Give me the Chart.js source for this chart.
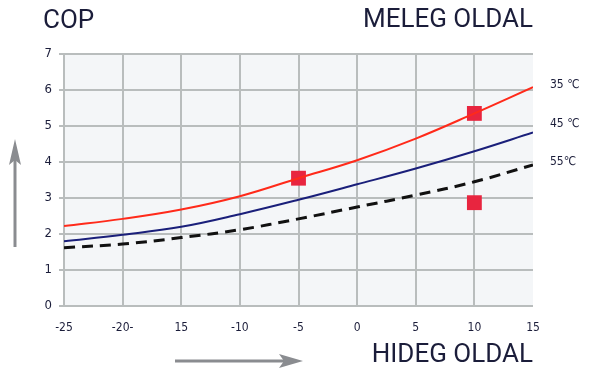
<!DOCTYPE html>
<html><head><meta charset="utf-8">
<script src="https://cdn.jsdelivr.net/npm/chart.js@4"></script>
<style>html,body{margin:0;padding:0;background:#fff}#wrap{width:600px;height:383px;position:relative}</style>
</head><body><div id="wrap"><canvas id="c" width="600" height="383"></canvas></div>
<script>
const xValues = [-25, -20, -15, -10, -5, 0, 5, 10, 15];
const xTickLabels = ["-25", "-20-", "15", "-10", "-5", "0", "5", "10", "15"];
const yTicks = [0, 1, 2, 3, 4, 5, 6, 7];
const cop35 = [2.22, 2.42, 2.68, 3.05, 3.55, 4.05, 4.65, 5.35, 6.08];
const cop45 = [1.80, 1.98, 2.20, 2.55, 2.95, 3.38, 3.82, 4.30, 4.82];
const cop55 = [1.62, 1.72, 1.90, 2.12, 2.42, 2.75, 3.08, 3.45, 3.92];
const markerX = [-5, 10, 10];
const markerY = [3.55, 5.35, 2.87];
const seriesLabels = ["35 ℃", "45 ℃", "55℃"];
const titleY = "COP", titleTop = "MELEG OLDAL", titleBottom = "HIDEG OLDAL";

const pts = a => a.map((v, i) => ({x: xValues[i], y: v}));
const textColor = '#1b1d3a';
const narrow = '"Liberation Sans Narrow", "Arial Narrow", "DejaVu Sans Condensed", sans-serif';

const deco = {
  id: 'deco',
  beforeDraw(chart) {
    const {ctx, chartArea: a} = chart;
    ctx.save();
    ctx.fillStyle = '#f4f6f8';
    ctx.fillRect(a.left, a.top, a.right - a.left, a.bottom - a.top);
    ctx.restore();
  },
  afterDraw(chart) {
    const {ctx, chartArea: a, scales} = chart;
    ctx.save();
    ctx.fillStyle = textColor;
    ctx.textBaseline = 'alphabetic';
    ctx.font = '26px Roboto, "Liberation Sans", sans-serif';
    ctx.textAlign = 'left';
    ctx.fillText(titleY, 43, 28);
    ctx.textAlign = 'right';
    ctx.fillText(titleTop, a.right, 27);
    ctx.fillText(titleBottom, a.right, 362);
    // series labels
    ctx.font = '12px ' + narrow;
    ctx.textAlign = 'left';
    ctx.textBaseline = 'middle';
    const ly = [cop35, cop45, cop55].map(s => scales.y.getPixelForValue(s[s.length - 1]));
    ctx.fillText(seriesLabels[0], a.right + 17, ly[0] - 2);
    ctx.fillText(seriesLabels[1], a.right + 17, ly[1] - 9);
    ctx.fillText(seriesLabels[2], a.right + 17, ly[2] - 3);
    // arrows
    ctx.strokeStyle = '#8a8c90';
    ctx.fillStyle = '#8a8c90';
    ctx.lineWidth = 3;
    ctx.beginPath(); ctx.moveTo(15, 247); ctx.lineTo(15, 155); ctx.stroke();
    ctx.beginPath(); ctx.moveTo(15, 139); ctx.lineTo(9, 165); ctx.lineTo(15, 160); ctx.lineTo(21, 165); ctx.closePath(); ctx.fill();
    ctx.beginPath(); ctx.moveTo(175, 361); ctx.lineTo(288, 361); ctx.stroke();
    ctx.beginPath(); ctx.moveTo(303, 361); ctx.lineTo(279, 354); ctx.lineTo(284, 361); ctx.lineTo(279, 368); ctx.closePath(); ctx.fill();
    ctx.restore();
  }
};

new Chart(document.getElementById('c'), {
  type: 'line',
  data: {
    datasets: [
      {label: seriesLabels[0], data: pts(cop35), borderColor: '#ff2a1a', borderWidth: 2, pointRadius: 0, tension: 0.4, fill: false},
      {label: seriesLabels[1], data: pts(cop45), borderColor: '#1a1f7a', borderWidth: 2, pointRadius: 0, tension: 0.4, fill: false},
      {label: seriesLabels[2], data: pts(cop55), borderColor: '#111111', borderWidth: 3, borderDash: [11, 7], pointRadius: 0, tension: 0.4, fill: false},
      {type: 'scatter', label: 'pts', data: markerX.map((x, i) => ({x, y: markerY[i]})), pointStyle: 'rect', pointRadius: 10.5, backgroundColor: '#e8253f', borderColor: '#e8253f', borderWidth: 0}
    ]
  },
  options: {
    responsive: false,
    animation: false,
    layout: {padding: {left: 0, right: 67, top: 54, bottom: 47}},
    plugins: {legend: {display: false}, tooltip: {enabled: false}},
    scales: {
      x: {
        type: 'linear', min: -25, max: 15,
        afterBuildTicks: s => { s.ticks = xValues.map(v => ({value: v})); },
        afterFit: s => { s.height = 30; },
        ticks: {
          callback: v => xTickLabels[xValues.indexOf(v)],
          color: textColor, padding: 15,
          font: {family: narrow, size: 12},
          maxRotation: 0, autoSkip: false
        },
        grid: {color: c => (c.tick && c.tick.value === 15) ? 'rgba(0,0,0,0)' : '#b9bdbd', lineWidth: 2, drawTicks: false},
        border: {display: false}
      },
      y: {
        min: 0, max: 7,
        afterBuildTicks: s => { s.ticks = yTicks.map(v => ({value: v})); },
        afterFit: s => { s.width = 64; },
        ticks: {
          color: textColor, padding: 7,
          font: {family: narrow, size: 13}
        },
        grid: {color: '#b9bdbd', lineWidth: 2, drawTicks: true, tickLength: 5},
        border: {display: true, color: '#b9bdbd', width: 2}
      }
    }
  },
  plugins: [deco]
});
</script></body></html>
